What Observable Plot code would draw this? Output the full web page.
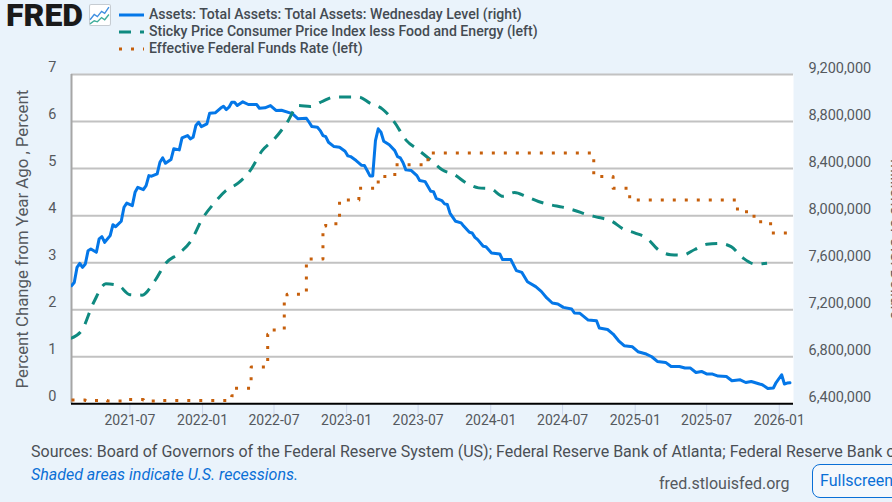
<!DOCTYPE html>
<html>
<head>
<meta charset="utf-8">
<script src="https://cdn.jsdelivr.net/npm/d3@7"></script>
<script src="https://cdn.jsdelivr.net/npm/@observablehq/plot@0.6"></script>
<style>
html,body{margin:0;padding:0;width:892px;height:502px;overflow:hidden;background:#eaf3fb;font-family:Roboto,sans-serif;}
#page{position:relative;width:892px;height:502px;overflow:hidden;}
#chart{position:absolute;left:0;top:55px;}
.abs{position:absolute;white-space:nowrap;}
.leg{left:149px;font-size:14.1px;font-weight:500;color:#444b52;line-height:17px;}
.sw{position:absolute;left:119px;}
</style>
</head>
<body>
<div id="page">
  <div class="abs" style="left:6px;top:0;font:900 30.5px/31px Roboto,sans-serif;color:#1a1a1a;letter-spacing:0;transform:scaleX(1.05);transform-origin:left center;">FRED</div>
  <svg class="abs" style="left:89px;top:4px" width="22" height="22" viewBox="0 0 21 21">
    <rect x=".5" y=".5" width="20" height="20" rx="1.5" fill="#fff" stroke="#c6ccd2"/>
    <polyline points="1,15 5,10 8,12 12,7 15,9 19,3" fill="none" stroke="#3f8fe0" stroke-width="1.3"/>
    <polyline points="1,19 5,16 8,17 12,13 15,15 19,10" fill="none" stroke="#3fae9c" stroke-width="1.3"/>
  </svg>
  <svg class="sw" style="top:12px" width="25" height="6"><line x1="0" x2="25" y1="3" y2="3" stroke="#0477e8" stroke-width="3"/></svg>
  <svg class="sw" style="top:29px" width="25" height="6"><line x1="0" x2="25" y1="3" y2="3" stroke="#0f8a80" stroke-width="3" stroke-dasharray="12,9"/></svg>
  <svg class="sw" style="top:46px" width="25" height="6"><line x1="0" x2="25" y1="3" y2="3" stroke="#c65f0b" stroke-width="3" stroke-dasharray="3,9"/></svg>
  <div class="abs leg" style="top:6px">Assets: Total Assets: Total Assets: Wednesday Level (right)</div>
  <div class="abs leg" style="top:23px">Sticky Price Consumer Price Index less Food and Energy (left)</div>
  <div class="abs leg" style="top:40px">Effective Federal Funds Rate (left)</div>
  <div id="chart"></div>
  <div class="abs" style="left:31px;top:442px;font-size:16px;line-height:20px;color:#4a4f55;">Sources: Board of Governors of the Federal Reserve System (US); Federal Reserve Bank of Atlanta; Federal Reserve Bank of St. Louis</div>
  <div class="abs" style="left:31px;top:465px;font-size:16px;line-height:20px;font-style:italic;color:#0a6fd6;">Shaded areas indicate U.S. recessions.</div>
  <div class="abs" style="left:659px;top:474px;font-size:16px;line-height:20px;color:#55595e;">fred.stlouisfed.org</div>
  <div class="abs" style="left:812px;top:464px;width:100px;height:32px;border:1px solid #0a6fd6;border-radius:8px;background:#f4f8fc;box-sizing:content-box;font-size:16px;line-height:32px;color:#0a6fd6;padding-left:7px;">Fullscreen</div>
</div>
<script>
// Total assets (millions of dollars, right axis), keyed by weeks since the first Wednesday
const firstWeek = "2021-02-03";
const assetWeeks = [0,1,2,3,4,5,6,7,9,10,11,12,14,15,16,18,19,20,22,23,24,26,27,28,29,31,32,33,34,36,37,39,40,42,43,44,45,46,47,49,50,52,54,55,56,57,58,59,60,62,64,67,68,70,72,74,76,79,80,82,85,86,87,89,90,91,92,93,95,97,99,100,101,103,105,106,107,108,109,110,111,112,113,115,117,118,119,120,121,123,125,126,128,130,131,132,134,135,136,137,139,141,142,144,145,146,147,149,150,152,155,156,159,161,163,165,168,170,172,174,176,178,181,182,184,187,190,191,194,196,198,200,203,205,208,210,212,215,217,220,222,224,226,228,230,232,234,237,239,242,244,246,249,250,252,254,255,257,258,259,260];
const assetValues = [7404,7432,7560,7594,7560,7589,7702,7717,7688,7802,7821,7773,7830,7923,7906,7952,8071,8106,8085,8198,8241,8221,8255,8340,8335,8355,8454,8491,8445,8477,8568,8559,8661,8681,8653,8666,8766,8794,8757,8780,8871,8874,8915,8930,8902,8922,8964,8964,8936,8968,8945,8945,8913,8917,8936,8894,8896,8874,8866,8823,8828,8794,8757,8752,8723,8681,8672,8624,8587,8581,8547,8508,8502,8468,8428,8426,8383,8338,8338,8638,8738,8709,8632,8602,8553,8502,8491,8449,8389,8383,8340,8298,8289,8207,8204,8147,8128,8100,8094,8020,7952,7938,7909,7858,7853,7815,7796,7739,7736,7683,7674,7626,7626,7532,7517,7438,7396,7356,7300,7257,7249,7220,7206,7172,7169,7112,7106,7044,7032,6993,6936,6894,6885,6843,6823,6800,6760,6752,6717,6717,6704,6704,6666,6675,6653,6653,6636,6632,6596,6604,6581,6590,6568,6562,6530,6534,6581,6647,6568,6576,6579].map(d => d * 1000);

// Sticky price CPI less food and energy (percent, monthly from the first month)
const cpiStart = "2021-02-01";
const cpiValues = [1.39,1.56,2.17,2.55,2.52,2.32,2.31,2.60,3.00,3.19,3.44,3.94,4.28,4.53,4.69,4.95,5.38,5.62,5.95,6.34,6.32,6.43,6.52,6.52,6.52,6.39,6.27,6.00,5.60,5.40,5.19,4.97,4.87,4.69,4.59,4.57,4.41,4.49,4.40,4.30,4.23,4.18,4.11,4.02,3.96,3.89,3.72,3.63,3.51,3.27,3.17,3.16,3.28,3.39,3.41,3.34,3.10,2.97,2.99];

// Effective federal funds rate (percent): the week each level starts
const rateWeeks = [0,5,13,19,26,29,31,58,59,65,70,71,72,77,78,85,86,91,92,97,104,111,117,129,189,196,202,241,247,253,260];
const rateValues = [0.08,0.07,0.06,0.09,0.08,0.06,0.07,0.17,0.33,0.78,0.81,1.48,1.57,2.25,2.33,2.99,3.08,3.78,3.83,4.33,4.58,4.83,5.08,5.33,4.83,4.58,4.33,4.08,3.87,3.63,3.63];

const leftTicks = [0,1,2,3,4,5,6,7];
const rightBase = 6400000, rightStep = 400000;
const xTickDates = ["2021-07-01","2022-01-01","2022-07-01","2023-01-01","2023-07-01","2024-01-01","2024-07-01","2025-01-01","2025-07-01","2026-01-01"];
const yLabel = "Percent Change from Year Ago , Percent";
const rightLabel = "Millions of U.S. Dollars";

const toWeek = w => d3.utcDay.offset(new Date(firstWeek), w * 7);
const assets = assetWeeks.map((w, i) => ({date: toWeek(w), y: (assetValues[i] - rightBase) / rightStep}));
const cpi = cpiValues.map((v, i) => ({date: d3.utcMonth.offset(new Date(cpiStart), i), y: v}));
const rate = rateWeeks.map((w, i) => ({date: toWeek(w), y: rateValues[i]}));
const xStart = new Date(firstWeek), xEnd = new Date("2026-02-06");

const chart = Plot.plot({
  width: 892, height: 375,
  marginLeft: 71, marginRight: 99, marginTop: 19, marginBottom: 26.7,
  style: {background: "transparent", fontFamily: "Roboto, sans-serif", overflow: "hidden"},
  x: {type: "utc", domain: [xStart, xEnd]},
  y: {domain: [0, 7]},
  marks: [
    Plot.frame({fill: "#fff", stroke: null}),
    Plot.ruleY(leftTicks.slice(1), {stroke: "#c2c2c2", strokeWidth: 2}),
    Plot.ruleX([xStart], {stroke: "#a6a6a6", strokeWidth: 2}),
    Plot.axisX({ticks: xTickDates.map(d => new Date(d)), tickFormat: d3.utcFormat("%Y-%m"), tickSize: 12, tickPadding: -1, fontSize: 14, stroke: "#ccd6eb", color: "#55595e", label: null}),
    Plot.axisY({anchor: "left", ticks: leftTicks, tickSize: 0, tickPadding: 15, dy: -7, fontSize: 14.5, color: "#55595e", label: null, tickFormat: d => String(d)}),
    Plot.axisY({anchor: "right", ticks: leftTicks, tickSize: 0, tickPadding: 15, dy: -6.5, fontSize: 14.5, color: "#55595e", label: null, tickFormat: d => d3.format(",")(rightBase + d * rightStep)}),
    Plot.text([yLabel], {frameAnchor: "left", textAnchor: "middle", dx: -49, rotate: -90, fontSize: 16.8, fill: "#55595e"}),
    Plot.text([rightLabel], {frameAnchor: "right", textAnchor: "middle", dx: 103, rotate: 90, fontSize: 16, fill: "#55595e"}),
    Plot.ruleY([0], {stroke: "#000", strokeWidth: 2}),
    Plot.line(assets, {x: "date", y: "y", stroke: "#0477e8", strokeWidth: 3, clip: true}),
    Plot.line(cpi, {x: "date", y: "y", stroke: "#0f8a80", strokeWidth: 3, strokeDasharray: "12,9", strokeLinecap: "butt", curve: "monotone-x", clip: true}),
    Plot.line(rate, {x: "date", y: "y", stroke: "#c65f0b", strokeWidth: 3, strokeDasharray: "3,9", strokeLinecap: "butt", curve: "step-after", clip: true})
  ]
});
document.getElementById("chart").appendChild(chart);
</script>
</body>
</html>
